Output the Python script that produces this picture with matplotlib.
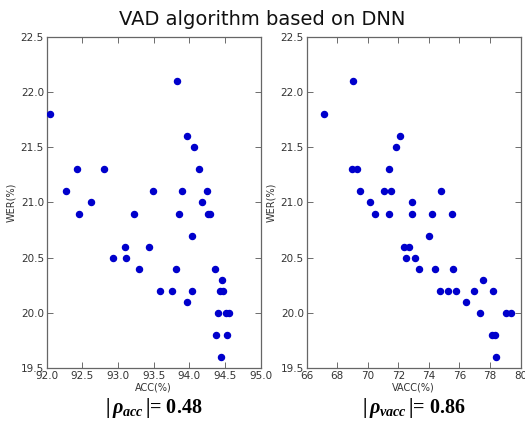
import numpy as np
import matplotlib
matplotlib.use("Agg")
from matplotlib import pyplot as plt

# ACC / VACC vs WER
acc = [92.05, 93.83, 93.97, 94.07, 92.43, 92.80, 94.13, 92.27, 93.49, 93.89,
       94.24, 92.62, 94.18, 92.45, 93.23, 93.85, 94.26, 94.29, 94.03, 93.10,
       93.44, 92.93, 93.11, 93.30, 93.81, 94.36, 94.46, 93.59, 93.76, 94.03,
       94.43, 94.47, 93.97, 94.40, 94.52, 94.55, 94.37, 94.53, 94.44]
wer_acc = [21.8, 22.1, 21.6, 21.5, 21.3, 21.3, 21.3, 21.1, 21.1, 21.1,
           21.1, 21.0, 21.0, 20.9, 20.9, 20.9, 20.9, 20.9, 20.7, 20.6,
           20.6, 20.5, 20.5, 20.4, 20.4, 20.4, 20.3, 20.2, 20.2, 20.2,
           20.2, 20.2, 20.1, 20.0, 20.0, 20.0, 19.8, 19.8, 19.6]

vacc = [67.15, 69.03, 72.10, 71.82, 68.94, 69.27, 71.40, 69.49, 71.05, 71.53,
        74.80, 70.16, 72.91, 70.47, 71.36, 72.91, 74.21, 75.48, 74.04, 72.34,
        72.71, 72.49, 73.12, 73.36, 74.37, 75.59, 77.55, 74.76, 75.28, 75.76,
        76.94, 78.22, 76.41, 77.37, 79.05, 79.36, 78.10, 78.30, 78.37]
wer_vacc = [21.8, 22.1, 21.6, 21.5, 21.3, 21.3, 21.3, 21.1, 21.1, 21.1,
            21.1, 21.0, 21.0, 20.9, 20.9, 20.9, 20.9, 20.9, 20.7, 20.6,
            20.6, 20.5, 20.5, 20.4, 20.4, 20.4, 20.3, 20.2, 20.2, 20.2,
            20.2, 20.2, 20.1, 20.0, 20.0, 20.0, 19.8, 19.8, 19.6]

acc_ticks = np.arange(92.0, 95.01, 0.5)
vacc_ticks = np.arange(66, 80.1, 2)
wer_ticks = np.arange(19.5, 22.51, 0.5)

plt.rcParams['mathtext.fontset'] = 'custom'
plt.rcParams['mathtext.rm'] = 'Liberation Serif:bold'
plt.rcParams['mathtext.it'] = 'Liberation Serif:italic:bold'

fig = plt.figure(figsize=(5.25, 4.29), dpi=100)
fig.patch.set_facecolor('white')

panels = [
    (0.089, acc, wer_acc, acc_ticks, '%.1f', 'ACC(%)', (92.0, 95.0), r'$|\,\rho_{acc}\,|$= 0.48'),
    (0.584, vacc, wer_vacc, vacc_ticks, '%d', 'VACC(%)', (66, 80), r'$|\,\rho_{vacc}\,|$= 0.86'),
]

for x0, xs, ys, xt, fmt, xlab, xlim, rho in panels:
    ax = fig.add_axes([x0, 0.142, 0.4076, 0.772])
    ax.scatter(xs, ys, s=19, color='#0000cc', edgecolors='#0000cc', zorder=3)
    ax.set_xlim(*xlim)
    ax.set_ylim(19.5, 22.5)
    ax.set_xticks(xt)
    ax.set_xticklabels([fmt % v for v in xt])
    ax.set_yticks(wer_ticks)
    ax.set_yticklabels(['%.1f' % v for v in wer_ticks])
    ax.tick_params(direction='in', top=True, right=True, length=4, width=0.6,
                   labelsize=7.5, labelcolor='#333333', color='#555555', pad=2)
    for sp in ax.spines.values():
        sp.set_color('#666666')
        sp.set_linewidth(0.9)
    ax.set_xlabel(xlab, fontsize=7, color='#333333', labelpad=1)
    ax.set_ylabel('WER(%)', fontsize=7, color='#333333', labelpad=3)
    # correlation note under each panel
    fig.text(x0 + 0.4076 / 2, 0.048, rho, ha='center', va='center',
             fontsize=14.5, family='Liberation Serif', weight='bold')

fig.text(0.5, 0.955, 'VAD algorithm based on DNN', ha='center', va='center',
         fontsize=14, color='#111111')

fig.savefig('out.png', dpi=100)
